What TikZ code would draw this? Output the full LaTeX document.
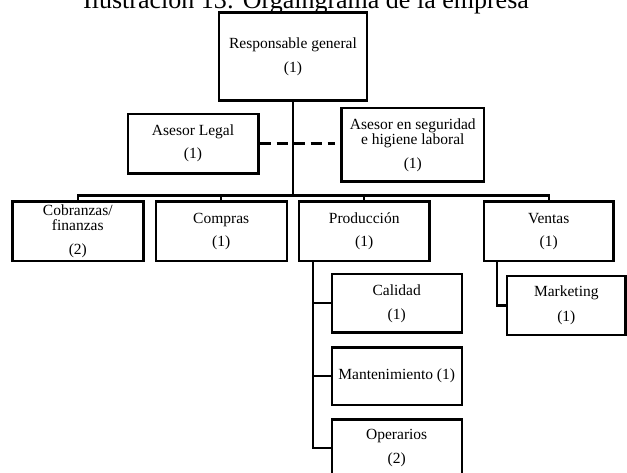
\documentclass[tikz,border=0pt]{standalone}
\usepackage{fontspec}
\setmainfont{Liberation Serif}
\begin{document}
\begin{tikzpicture}[x=1pt,y=-1pt,
  unit/.style={draw=black, line width=2.4pt, inner sep=0pt, align=center,
    font=\fontsize{15.5}{15.5}\selectfont},
  link/.style={draw=black, line width=2.4pt},
  dashlink/.style={link, dash pattern=on 11pt off 6pt}]
\useasboundingbox (0,0) rectangle (627,473);

% caption
\node[anchor=base west, inner sep=0pt, font=\fontsize{26}{30}\selectfont] (title) at (83,9)
  {Ilustración 13: Orgaingrama de la empresa};

% top level and advisors
\node[unit, minimum width=148pt, minimum height=88pt] (resp) at (293,56.7)
  {Responsable general\\[8.5pt](1)};
\node[unit, minimum width=130.6pt, minimum height=59.3pt] (legal) at (193,143.7)
  {Asesor Legal\\[7.5pt](1)};
\node[unit, minimum width=142.3pt, minimum height=73.4pt] (seg) at (412.8,145)
  {Asesor en seguridad\\e higiene laboral\\[8pt](1)};

% departments
\node[unit, minimum width=131pt, minimum height=59.3pt] (cob) at (77.8,231.3)
  {Cobranzas/\\finanzas\\[8.5pt](2)};
\node[unit, minimum width=131pt, minimum height=59.3pt] (comp) at (221.2,231.3)
  {Compras\\[7.5pt](1)};
\node[unit, minimum width=130.3pt, minimum height=59.3pt] (prod) at (364.2,231.3)
  {Producción\\[7.5pt](1)};
\node[unit, minimum width=129.3pt, minimum height=59.3pt] (ven) at (548.7,231.3)
  {Ventas\\[7.5pt](1)};

% production units
\node[unit, minimum width=130pt, minimum height=58.7pt] (cal) at (396.7,303.3)
  {Calidad\\[8.5pt](1)};
\node[unit, minimum width=130pt, minimum height=57.7pt] (man) at (396.7,376.2)
  {Mantenimiento (1)};
\node[unit, minimum width=130pt, minimum height=57.4pt] (ope) at (396.7,448)
  {Operarios\\[8pt](2)};

% sales unit
\node[unit, minimum width=118.5pt, minimum height=59pt] (mkt) at (566.3,305.5)
  {Marketing\\[9pt](1)};

% connector guides
\coordinate (busy) at (0,195.5);
\coordinate (dashend) at (335,0);
\coordinate (ptrunk) at (312.7,0);
\coordinate (vtrunk) at (497,0);

% main hierarchy
\draw[link] (resp.south) -- (resp.south |- busy);
\draw[link] (cob.north) -- (cob.north |- busy) -- (ven.north |- busy) -- (ven.north);
\draw[link] (comp.north) -- (comp.north |- busy);
\draw[link] (prod.north) -- (prod.north |- busy);

% advisory link
\draw[dashlink] (legal.east) -- (legal.east -| dashend);

% production branch
\draw[link] (prod.south -| ptrunk) -- (ope.west -| ptrunk) -- (ope.west);
\draw[link] (cal.west -| ptrunk) -- (cal.west);
\draw[link] (man.west -| ptrunk) -- (man.west);

% sales branch
\draw[link] (ven.south -| vtrunk) -- (mkt.west -| vtrunk) -- (mkt.west);
\end{tikzpicture}
\end{document}
